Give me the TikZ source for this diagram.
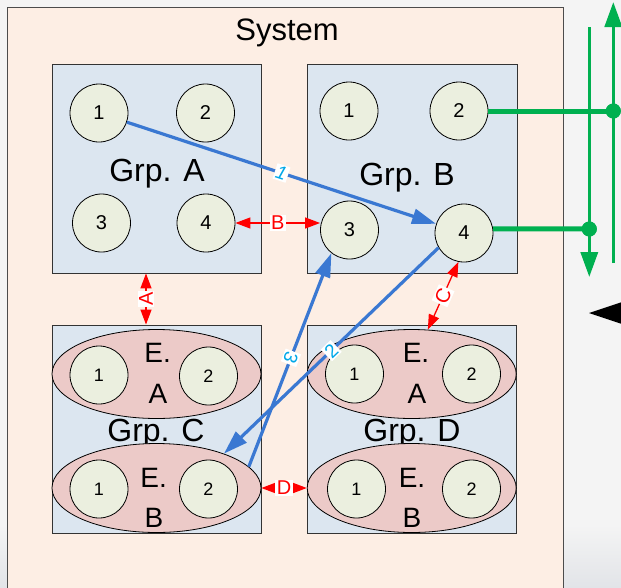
\documentclass[tikz,border=0pt]{standalone}
\usepackage{fontspec}
\setmainfont{Liberation Sans}
\usetikzlibrary{arrows.meta,shapes.geometric}
\definecolor{sysfill}{HTML}{FDEEE4}
\definecolor{grpfill}{HTML}{DCE6F0}
\definecolor{cirfill}{HTML}{EBEFDF}
\definecolor{elfill}{HTML}{ECCAC8}
\definecolor{flowblue}{HTML}{3A78D2}
\definecolor{flowcyan}{HTML}{00A8E8}
\definecolor{busgreen}{HTML}{00B050}
\definecolor{pagegrey}{HTML}{F4F4F4}
\definecolor{pagegreyb}{HTML}{E2E4E8}

\begin{document}
\begin{tikzpicture}[x=1pt,y=-1pt,
  grp/.style={draw=black!80, fill=grpfill, line width=0.9pt, inner sep=0pt},
  port/.style={circle, draw=black, fill=cirfill, line width=0.8pt, minimum size=58pt, inner sep=0pt, font=\fontsize{20}{20}\selectfont},
  sport/.style={port, font=\fontsize{18}{18}\selectfont},
  elem/.style={ellipse, draw=black, fill=elfill, line width=0.8pt, minimum width=209pt, minimum height=89pt, inner sep=0pt},
  grptitle/.style={anchor=base, inner sep=0pt, font=\fontsize{32}{32}\selectfont},
  eltitle/.style={anchor=base, inner sep=0pt, font=\fontsize{28}{28}\selectfont},
  flow/.style={flowblue, line width=3.2pt, -{Triangle[length=24pt,width=15pt]}},
  flowrev/.style={flowblue, line width=3.2pt, {Triangle[length=24pt,width=15pt]}-},
  flowtag/.style={fill=white, text=flowcyan, inner sep=1.5pt, font=\fontsize{19}{19}\selectfont, sloped, allow upside down},
  link/.style={red, line width=1.3pt, {Triangle[length=15pt,width=11pt]}-{Triangle[length=15pt,width=11pt]}},
  linktag/.style={fill=white, text=red, inner sep=1.5pt, font=\fontsize{20}{20}\selectfont, sloped, allow upside down},
  bus/.style={busgreen, line width=5pt},
  rail/.style={busgreen, line width=3.5pt, -{Triangle[length=25pt,width=17pt]}},
  tap/.style={circle, fill=busgreen, minimum size=15pt, inner sep=0pt},
]
\useasboundingbox (0,0) rectangle (621,587);
\clip (0,0) rectangle (621,587);

% page background
\fill[pagegrey] (0,0) rectangle (621,587);
\shade[top color=pagegrey, bottom color=pagegreyb] (0,525) rectangle (621,587);

% system frame
\draw[draw=black!70, fill=sysfill, line width=0.9pt] (7,7) rectangle (563,600);
\node[anchor=base, inner sep=0pt, font=\fontsize{31}{31}\selectfont] (sys) at (287,40) {System};

% groups
\node[grp, minimum width=209pt, minimum height=209pt] (GA) at (156.5,168.5) {};
\node[grp, minimum width=210pt, minimum height=209pt] (GB) at (412,168.5) {};
\node[grp, minimum width=209pt, minimum height=208pt] (GC) at (156.5,429) {};
\node[grp, minimum width=209pt, minimum height=208pt] (GD) at (411.5,429) {};

\node[grptitle] (tA) at (157,181.7) {Grp. A};
\node[grptitle] (tB) at (407,185) {Grp. B};
\node[grptitle] (tC) at (156,441.7) {Grp. C};
\node[grptitle] (tD) at (412,441.7) {Grp. D};

% ports of groups A and B
\node[port] (A1) at (99,113) {1};
\node[port] (A2) at (205.5,113) {2};
\node[port] (A3) at (101.5,223) {3};
\node[port] (A4) at (206,223) {4};
\node[port] (B1) at (349,111) {1};
\node[port] (B2) at (459,111) {2};
\node[port] (B3) at (349.5,230) {3};
\node[port] (B4) at (464,233) {4};

% elements of groups C and D
\node[elem] (CEA) at (156.5,374) {};
\node[elem] (CEB) at (156.5,488) {};
\node[elem] (DEA) at (411.7,374) {};
\node[elem] (DEB) at (411.7,488) {};

\node[sport] (CEA1) at (99,375) {1};
\node[sport] (CEA2) at (208.5,376) {2};
\node[sport] (CEB1) at (99,489) {1};
\node[sport] (CEB2) at (208.5,489) {2};
\node[sport] (DEA1) at (354.5,374) {1};
\node[sport] (DEA2) at (471.5,374) {2};
\node[sport] (DEB1) at (356.5,489) {1};
\node[sport] (DEB2) at (471.5,489) {2};

\node[eltitle] (CEAe) at (157.6,362.7) {E.};
\node[eltitle] (CEAn) at (158,403.3) {A};
\node[eltitle] (CEBe) at (153.7,487.7) {E.};
\node[eltitle] (CEBn) at (154,527.3) {B};
\node[eltitle] (DEAe) at (416,362.7) {E.};
\node[eltitle] (DEAn) at (417,403.3) {A};
\node[eltitle] (DEBe) at (412,487.7) {E.};
\node[eltitle] (DEBn) at (412,527.3) {B};

% red links between groups
\coordinate (ax) at (146,300);
\draw[link] (GC.north -| ax) -- (GA.south -| ax) node[linktag, midway] {A};
\draw[link] (A4.east) -- (A4.east -| B3.west) node[linktag, midway] {B};
\draw[link] (DEA.70) -- (B4.259) node[linktag, midway] {C};
\draw[link] (CEB.east) -- (DEB.west) node[linktag, midway] {D};

% blue flows
\draw[flow] (A1) -- (B4) node[flowtag, pos=0.5, font={\fontsize{19}{19}\selectfont\itshape}] {1};
\draw[flowrev] (B3.232) -- (CEB.13) node[flowtag, pos=0.49] {3};
\draw[flowrev] (CEB.27) -- (B4.210) node[flowtag, pos=0.5] {2};

% green bus on the right
\coordinate (r1top) at (589.3,27);
\coordinate (r1bot) at (589.3,277);
\coordinate (r2bot) at (613.3,263);
\coordinate (r2top) at (613.3,2);
\draw[rail] (r1top) -- (r1bot);
\draw[rail] (r2bot) -- (r2top);
\node[tap] (t1) at (613.3,111) {};
\node[tap] (t2) at (589.3,229) {};
\draw[bus] (B2.east) -- (t1.center);
\draw[bus] (B4.8) -- (t2.center);
\node[tap] at (t1) {};
\node[tap] at (t2) {};

% pointer entering from the right edge
\fill[black] (589,313) -- (640,296) -- (640,330) -- cycle;
\end{tikzpicture}
\end{document}
